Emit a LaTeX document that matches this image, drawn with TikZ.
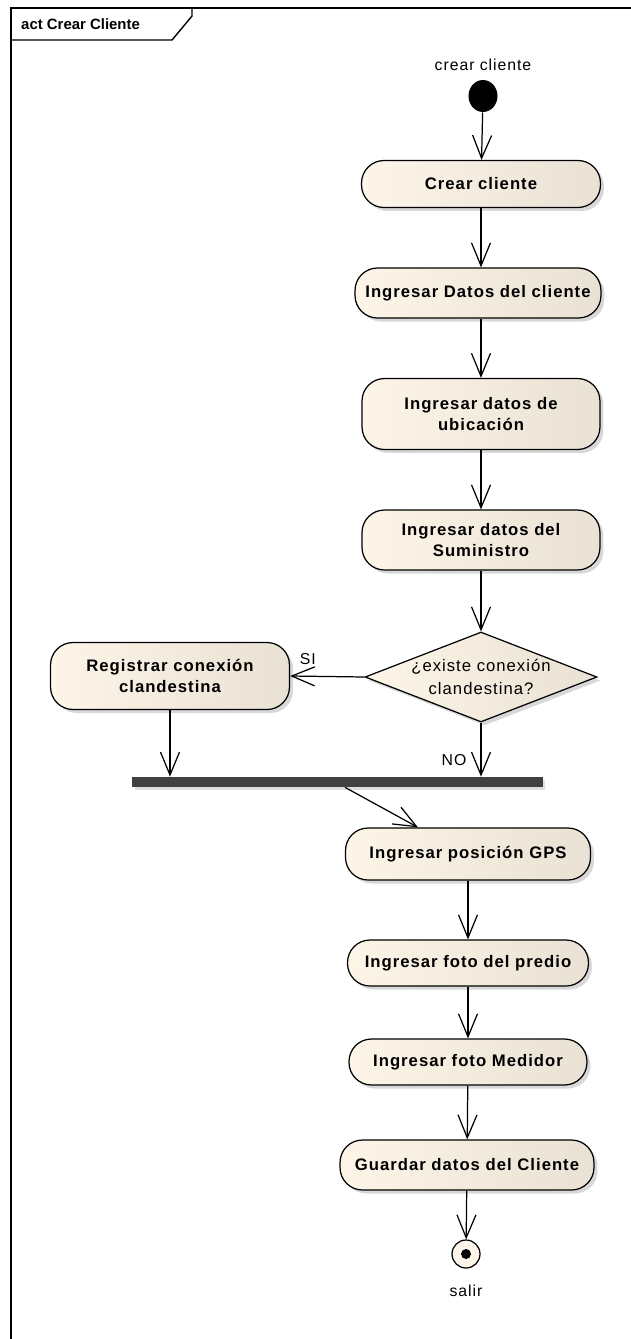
\documentclass[tikz,border=0pt]{standalone}
\usepackage{fontspec}
\setmainfont{Liberation Sans}
\newfontfamily\actfont[LetterSpace=6]{Liberation Sans}
\usetikzlibrary{arrows.meta,shapes.geometric,shadows}
\definecolor{actL}{RGB}{253,246,232}
\definecolor{actR}{RGB}{233,225,211}
\definecolor{barGray}{RGB}{64,64,64}
\tikzset{
  flow/.style={line width=0.7pt,-{Straight Barb[length=0.46cm,width=0.38cm,line width=0.7pt]}},
  action/.style={draw,line width=0.7pt,rounded corners=0.45cm,left color=actL,right color=actR,
    align=center,font=\actfont\bfseries\fontsize{9.5}{12}\selectfont,
    drop shadow={shadow xshift=0.07cm,shadow yshift=-0.07cm,fill=black!30}},
  decision/.style={draw,line width=0.7pt,diamond,aspect=2.6,inner sep=0pt,left color=actL,right color=actR,
    align=center,font=\actfont\fontsize{9.5}{13}\selectfont,
    drop shadow={shadow xshift=0.07cm,shadow yshift=-0.07cm,fill=black!30}},
  tag/.style={font=\actfont\fontsize{9}{11}\selectfont,inner sep=1pt}
}

\begin{document}
\begin{tikzpicture}[x=0.02cm,y=-0.02cm]
  \useasboundingbox (0,0) rectangle (631,1339);
  % frame and title tab
  \draw[line width=1.1pt] (11,1339) -- (11,8) -- (631,8);
  \draw[line width=0.8pt] (11,40) -- (172,40) -- (192,16) -- (192,8);
  \node[anchor=west,font=\bfseries\fontsize{8.5}{10}\selectfont] (title) at (15,24) {act Crear Cliente};

  % initial node
  \node[ellipse,fill=black,minimum width=0.58cm,minimum height=0.64cm,inner sep=0pt] (start) at (483,96) {};
  \node[tag] (startlbl) at (483,65) {crear cliente};

  % actions
  \node[action,minimum width=4.78cm,minimum height=0.94cm] (crear) at (481,184) {Crear cliente};
  \node[action,minimum width=4.92cm,minimum height=1cm] (datos) at (478,293) {Ingresar Datos del cliente};
  \node[action,minimum width=4.76cm,minimum height=1.42cm] (ubicacion) at (481,414) {Ingresar datos de\\ubicación};
  \node[action,minimum width=4.76cm,minimum height=1.2cm] (suministro) at (481,540) {Ingresar datos del\\Suministro};
  \node[decision,minimum width=4.64cm,minimum height=1.8cm] (existe) at (481,677) {¿existe conexión\\clandestina?};
  \node[action,minimum width=4.78cm,minimum height=1.34cm] (registrar) at (170,676) {Registrar conexión\\clandestina};
  \node[rectangle,fill=barGray,minimum width=8.22cm,minimum height=0.2cm,inner sep=0pt,
    drop shadow={shadow xshift=0.05cm,shadow yshift=-0.05cm,fill=black!25}] (join) at (337.5,782) {};
  \node[action,minimum width=4.9cm,minimum height=1.04cm] (gps) at (468,854) {Ingresar posición GPS};
  \node[action,minimum width=4.82cm,minimum height=0.92cm] (predio) at (468,963) {Ingresar foto del predio};
  \node[action,minimum width=4.76cm,minimum height=0.92cm] (medidor) at (468,1062) {Ingresar foto Medidor};
  \node[action,minimum width=5.08cm,minimum height=1cm] (guardar) at (467,1165) {Guardar datos del Cliente};

  % final node
  \node[circle,draw,line width=0.7pt,fill=actL,minimum size=0.56cm,inner sep=0pt] (salir) at (466,1254) {};
  \fill (salir.center) circle (0.1cm);
  \node[tag] (salirlbl) at (466,1291) {salir};

  % flows
  \draw[flow] (start) -- (crear);
  \draw[flow] (crear) -- (datos.north -| crear);
  \draw[flow] (datos.south -| ubicacion) -- (ubicacion);
  \draw[flow] (ubicacion) -- (suministro);
  \draw[flow] (suministro) -- (existe);
  \draw[flow] (existe.west) -- (registrar.east) node[tag,pos=0.76,above=5pt] (si) {SI};
  \draw[flow] (registrar) -- (registrar |- join.north);
  \draw[flow] (existe) -- (existe |- join.north) node[tag,pos=0.7,left=7pt] (no) {NO};
  \draw[flow] ([xshift=0.15cm]join.south) -- ([xshift=-1cm]gps.north);
  \draw[flow] (gps) -- (predio);
  \draw[flow] (predio) -- (medidor);
  \draw[flow] (medidor) -- (guardar);
  \draw[flow] (guardar) -- (salir);
\end{tikzpicture}
\end{document}
